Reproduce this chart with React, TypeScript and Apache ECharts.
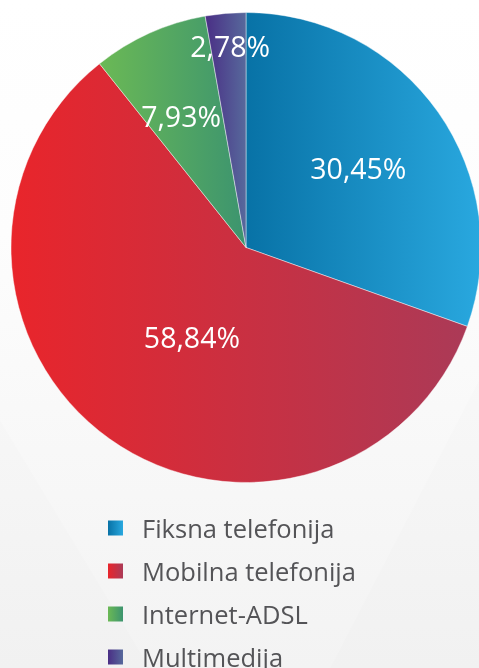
import React, { useEffect, useRef } from "react";
import * as echarts from "echarts";

const categories = ["Fiksna telefonija", "Mobilna telefonija", "Internet-ADSL", "Multimedija"];
const shares = [30.45, 58.84, 7.93, 2.78];
const sliceGradients = [
  ["#0872a6", "#29a8df"],
  ["#e9252b", "#ab3a57"],
  ["#6bb955", "#3c946f"],
  ["#4a2e85", "#57699c"],
];
// label placement: radial fraction of the radius and angular shift (deg) from the slice middle
const labelRadiusFactor = [0.585, 0.445, 0.624, 0.86];
const labelAngleShift = [0, -4.4, -2, 0.5];

const W = 479;
const H = 668;
const CX = 246;
const CY = 247.5;
const R = 235;

const fmt = (v: number) => v.toFixed(2).replace(".", ",") + "%";

const grad = (c: string[]) =>
  new echarts.graphic.LinearGradient(0, 0, 1, 0, [
    { offset: 0, color: c[0] },
    { offset: 1, color: c[1] },
  ]);

export default function App() {
  const ref = useRef<HTMLDivElement>(null);
  useEffect(() => {
    if (!ref.current) return;
    const chart = echarts.init(ref.current, undefined, { renderer: "svg" });
    const total = shares.reduce((a, b) => a + b, 0);
    const mids: number[] = [];
    let cum = 0;
    shares.forEach((v) => {
      mids.push(((cum + v / 2) / total) * Math.PI * 2);
      cum += v;
    });
    const bgFacet = "rgba(0,0,0,0.008)";
    chart.setOption({
      animation: false,
      graphic: {
        elements: [
          {
            type: "rect",
            z: -10,
            silent: true,
            shape: { x: 0, y: 0, width: W, height: H },
            style: {
              fill: new echarts.graphic.LinearGradient(0, 0, 0, 1, [
                { offset: 0, color: "#ffffff" },
                { offset: 0.35, color: "#fdfdfd" },
                { offset: 1, color: "#f3f3f3" },
              ]),
            },
          },
          {
            type: "polygon",
            z: -9,
            silent: true,
            shape: { points: [[0, 420], [150, 668], [0, 668]] },
            style: { fill: bgFacet },
          },
          {
            type: "polygon",
            z: -9,
            silent: true,
            shape: { points: [[479, 380], [479, 668], [330, 668]] },
            style: { fill: bgFacet },
          },
        ],
      },
      legend: {
        orient: "vertical",
        left: 103,
        top: 509,
        height: 220,
        icon: "rect",
        itemWidth: 15,
        itemHeight: 15,
        itemGap: 15,
        selectedMode: false,
        itemStyle: { borderWidth: 0 },
        textStyle: {
          fontFamily: "Open Sans",
          fontSize: 25.5,
          lineHeight: 28,
          color: "#545457",
          padding: [0, 0, 0, 14],
        },
        data: categories,
      },
      series: [
        {
          type: "pie",
          center: [CX, CY],
          radius: [0, R],
          startAngle: 90,
          clockwise: true,
          avoidLabelOverlap: false,
          itemStyle: { borderColor: "rgba(255,255,255,0.55)", borderWidth: 0.8 },
          label: {
            show: true,
            position: "inside",
            color: "#ffffff",
            fontFamily: "Open Sans",
            fontSize: 28.5,
            formatter: (p: any) => fmt(p.value),
          },
          labelLine: { show: false },
          labelLayout: (p: any) => {
            const i = p.dataIndex;
            const a = mids[i] + (labelAngleShift[i] * Math.PI) / 180;
            const rr = labelRadiusFactor[i] * R;
            return {
              x: CX + rr * Math.sin(a),
              y: CY - rr * Math.cos(a),
              align: "center",
              verticalAlign: "middle",
            };
          },
          data: categories.map((name, i) => ({
            name,
            value: shares[i],
            itemStyle: { color: grad(sliceGradients[i]) },
          })),
        },
      ],
    });
    return () => chart.dispose();
  }, []);
  return (
    <div
      ref={ref}
      style={{ position: "fixed", left: 0, top: 0, width: W, height: H }}
    />
  );
}
